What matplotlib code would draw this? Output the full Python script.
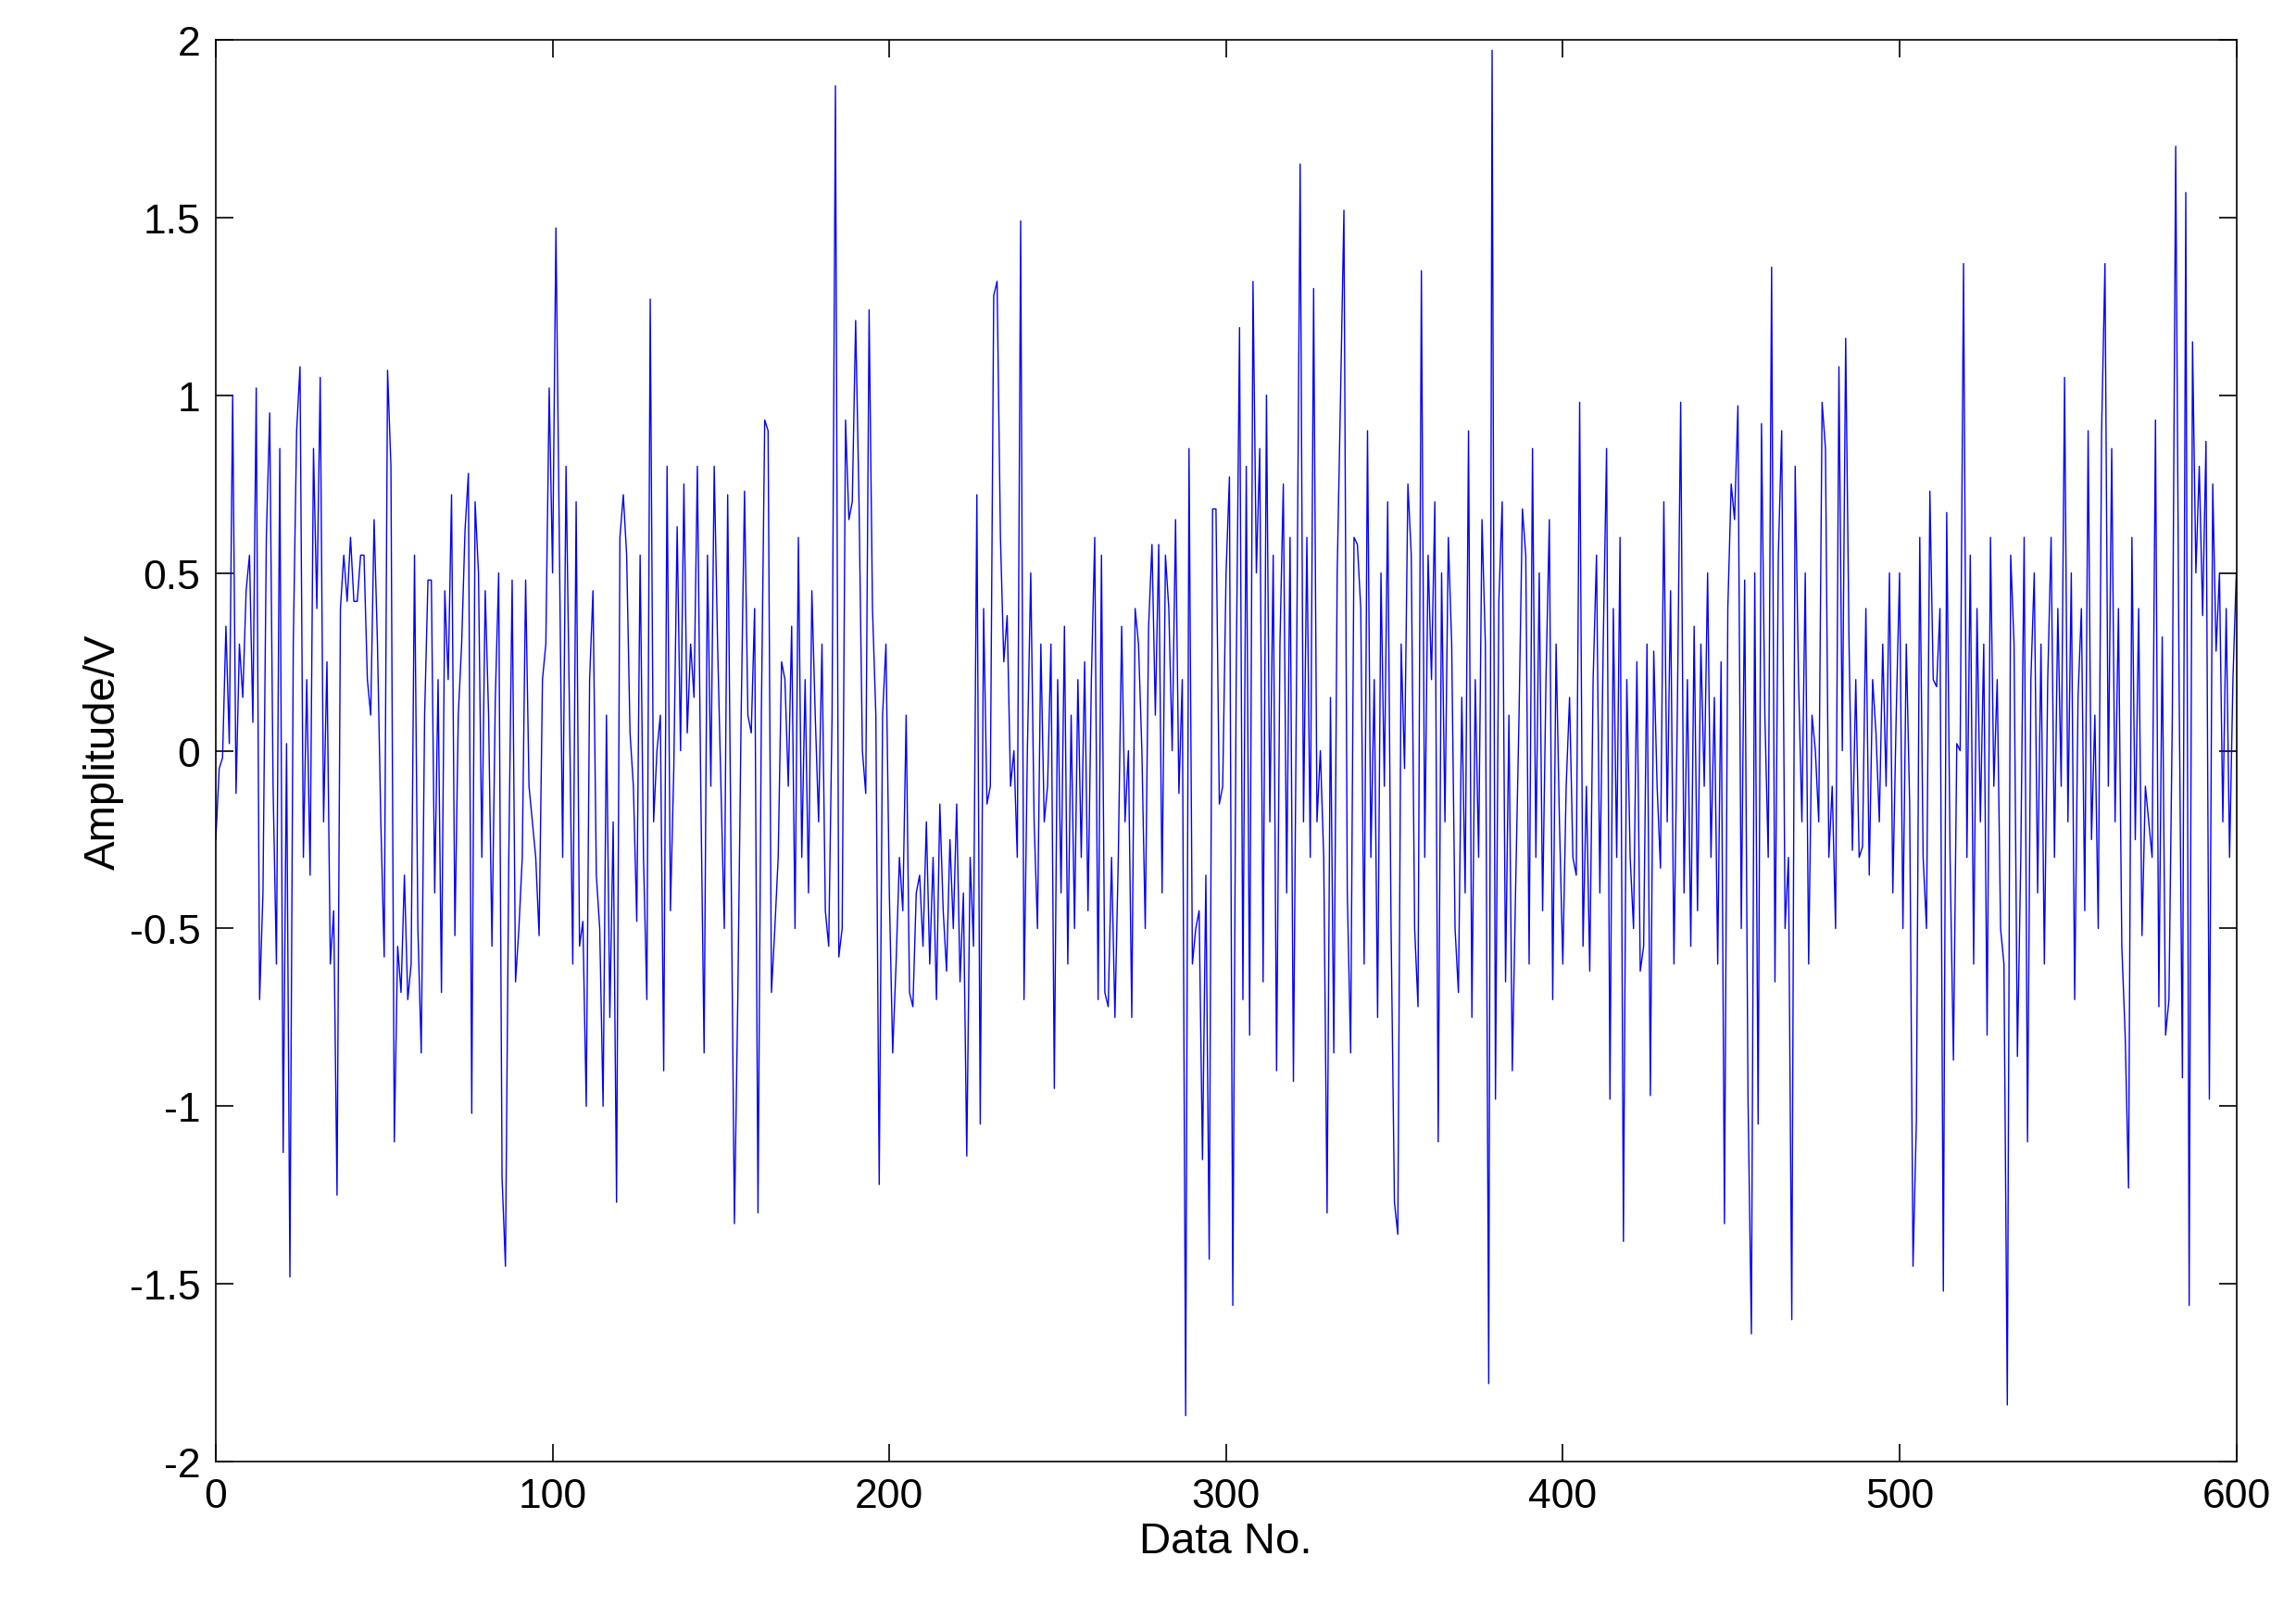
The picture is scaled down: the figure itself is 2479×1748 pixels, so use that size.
import matplotlib
matplotlib.use("Agg")
import matplotlib.pyplot as plt
import numpy as np

plt.rcParams['font.family'] = ['Liberation Sans', 'DejaVu Sans']

amplitude = [
-0.25,-0.05,-0.02,0.35,0.02,1.0,-0.12,0.3,0.15,0.45,
0.55,0.08,1.02,-0.7,-0.4,0.6,0.95,-0.1,-0.6,0.85,
-1.13,0.02,-1.48,0.3,0.9,1.08,-0.3,0.2,-0.35,0.85,
0.4,1.05,-0.2,0.25,-0.6,-0.45,-1.25,0.4,0.55,0.42,
0.6,0.42,0.42,0.55,0.55,0.2,0.1,0.65,0.3,-0.2,
-0.58,1.07,0.8,-1.1,-0.55,-0.68,-0.35,-0.7,-0.6,0.55,
-0.5,-0.85,0.1,0.48,0.48,-0.4,0.2,-0.68,0.45,0.2,
0.72,-0.52,0.1,0.3,0.62,0.78,-1.02,0.7,0.5,-0.3,
0.45,0.1,-0.55,0.15,0.5,-1.2,-1.45,-0.3,0.48,-0.65,
-0.5,-0.3,0.48,-0.1,-0.2,-0.3,-0.52,0.2,0.3,1.02,
0.5,1.47,0.6,-0.3,0.8,0.12,-0.6,0.7,-0.55,-0.48,
-1.0,0.2,0.45,-0.35,-0.5,-1.0,0.1,-0.75,-0.2,-1.27,
0.6,0.72,0.55,0.05,-0.1,-0.48,0.55,-0.3,-0.7,1.27,
-0.2,0.0,0.1,-0.9,0.8,-0.45,-0.05,0.63,0.0,0.75,
0.05,0.3,0.15,0.8,-0.1,-0.85,0.55,-0.1,0.8,0.3,
-0.1,-0.5,0.72,-0.3,-1.33,-0.7,0.1,0.73,0.1,0.05,
0.4,-1.3,0.1,0.93,0.9,-0.68,-0.5,-0.3,0.25,0.2,
-0.1,0.35,-0.5,0.6,-0.3,0.2,-0.4,0.45,0.1,-0.2,
0.3,-0.45,-0.55,0.1,1.87,-0.58,-0.5,0.93,0.65,0.7,
1.21,0.7,0.0,-0.12,1.24,0.4,0.1,-1.22,0.1,0.3,
-0.4,-0.85,-0.6,-0.3,-0.45,0.1,-0.68,-0.72,-0.4,-0.35,
-0.55,-0.2,-0.6,-0.3,-0.7,-0.15,-0.45,-0.62,-0.25,-0.5,
-0.15,-0.65,-0.4,-1.14,-0.3,-0.55,0.72,-1.05,0.4,-0.15,
-0.1,1.28,1.32,0.6,0.25,0.38,-0.1,0.0,-0.3,1.49,
-0.7,0.0,0.5,-0.2,-0.5,0.3,-0.2,-0.1,0.3,-0.95,
0.2,-0.4,0.35,-0.6,0.1,-0.5,0.2,-0.3,0.25,-0.45,
0.2,0.6,-0.7,0.55,-0.68,-0.72,-0.3,-0.75,-0.3,0.35,
-0.2,0.0,-0.75,0.4,0.3,0.0,-0.5,0.35,0.58,0.1,
0.58,-0.4,0.55,0.4,0.0,0.65,-0.12,0.2,-1.87,0.85,
-0.6,-0.5,-0.45,-1.15,-0.35,-1.43,0.68,0.68,-0.15,-0.1,
0.5,0.77,-1.56,0.2,1.19,-0.7,0.8,-0.8,1.32,0.5,
0.85,-0.65,1.0,-0.2,0.55,-0.9,0.3,0.75,-0.4,0.6,
-0.93,0.3,1.65,-0.2,0.6,-0.3,1.3,-0.2,0.0,-0.3,
-1.3,0.15,-0.85,0.5,1.0,1.52,-0.4,-0.85,0.6,0.58,
0.4,-0.6,0.9,-0.3,0.2,-0.75,0.5,-0.1,0.7,-0.5,
-1.27,-1.36,0.3,-0.05,0.75,0.55,-0.5,-0.72,1.35,-0.3,
0.55,0.2,0.7,-1.1,0.5,-0.2,0.6,0.3,-0.5,-0.68,
0.15,-0.4,0.9,-0.75,0.2,-0.3,0.65,0.3,-1.78,1.97,
-0.98,0.42,0.7,-0.65,0.1,-0.9,-0.38,0.1,0.68,0.55,
-0.6,0.85,-0.3,0.5,-0.45,0.2,0.65,-0.7,0.3,-0.2,
-0.6,-0.1,0.15,-0.3,-0.35,0.98,-0.55,-0.1,-0.62,0.2,
0.55,-0.4,0.3,0.85,-0.98,0.4,-0.3,0.6,-1.38,0.2,
-0.3,-0.5,0.25,-0.62,-0.55,0.3,-0.97,0.28,-0.1,-0.33,
0.7,-0.2,0.45,-0.6,0.1,0.98,-0.4,0.2,-0.55,0.35,
-0.45,0.3,-0.1,0.5,-0.3,0.15,-0.6,0.25,-1.33,0.4,
0.75,0.65,0.97,-0.5,0.48,-0.98,-1.64,0.5,-1.05,0.92,
0.1,-0.3,1.36,-0.65,0.55,0.9,-0.5,-0.3,-1.6,0.8,
0.2,-0.2,0.5,-0.6,0.1,0.0,-0.2,0.98,0.85,-0.3,
-0.1,-0.5,1.08,0.0,1.16,0.3,-0.28,0.2,-0.3,-0.27,
0.4,-0.35,0.2,0.05,-0.2,0.3,-0.1,0.5,-0.4,0.1,
0.5,-0.5,0.3,-0.15,-1.45,-1.04,0.6,-0.3,-0.5,0.73,
0.2,0.18,0.4,-1.52,0.67,-0.3,-0.87,0.02,0.0,1.37,
-0.3,0.55,-0.6,0.4,-0.2,0.3,-0.8,0.6,-0.1,0.2,
-0.5,-0.6,-1.84,0.55,0.3,-0.86,-0.3,0.6,-1.1,0.2,
0.5,-0.4,0.3,-0.6,0.2,0.6,-0.3,0.4,-0.1,1.05,
-0.2,0.5,-0.7,0.15,0.4,-0.45,0.9,-0.25,0.1,-0.5,
0.9,1.37,-0.1,0.85,-0.2,0.4,-0.55,-0.8,-1.23,0.6,
-0.25,0.4,-0.52,-0.1,-0.2,-0.3,0.93,-0.72,0.32,-0.8,
-0.7,0.1,1.7,0.2,-0.92,1.57,-1.56,1.15,0.5,0.8,
0.38,0.87,-0.98,0.75,0.28,0.5,-0.2,0.4,-0.3,0.2,
0.5,
]
data_no = np.arange(len(amplitude))

fig = plt.figure(figsize=(24.79, 17.49), dpi=100)
ax = fig.add_axes([0.094, 0.097, 0.88, 0.878])
ax.plot(data_no, amplitude, color='#0000ff', linewidth=1.0)
ax.set_xlim(0, 600)
ax.set_ylim(-2, 2)
ax.set_xticks(np.arange(0, 601, 100))
ax.set_yticks(np.arange(-2, 2.01, 0.5))
ax.set_yticklabels(['-2', '-1.5', '-1', '-0.5', '0', '0.5', '1', '1.5', '2'])
ax.tick_params(direction='in', top=True, right=True, labelsize=32, length=14, width=1.2, pad=12)
ax.set_xlabel('Data No.', fontsize=34)
ax.set_ylabel('Amplitude/V', fontsize=34)
for s in ax.spines.values():
    s.set_linewidth(1.2)
fig.savefig('out.png', dpi=100)
